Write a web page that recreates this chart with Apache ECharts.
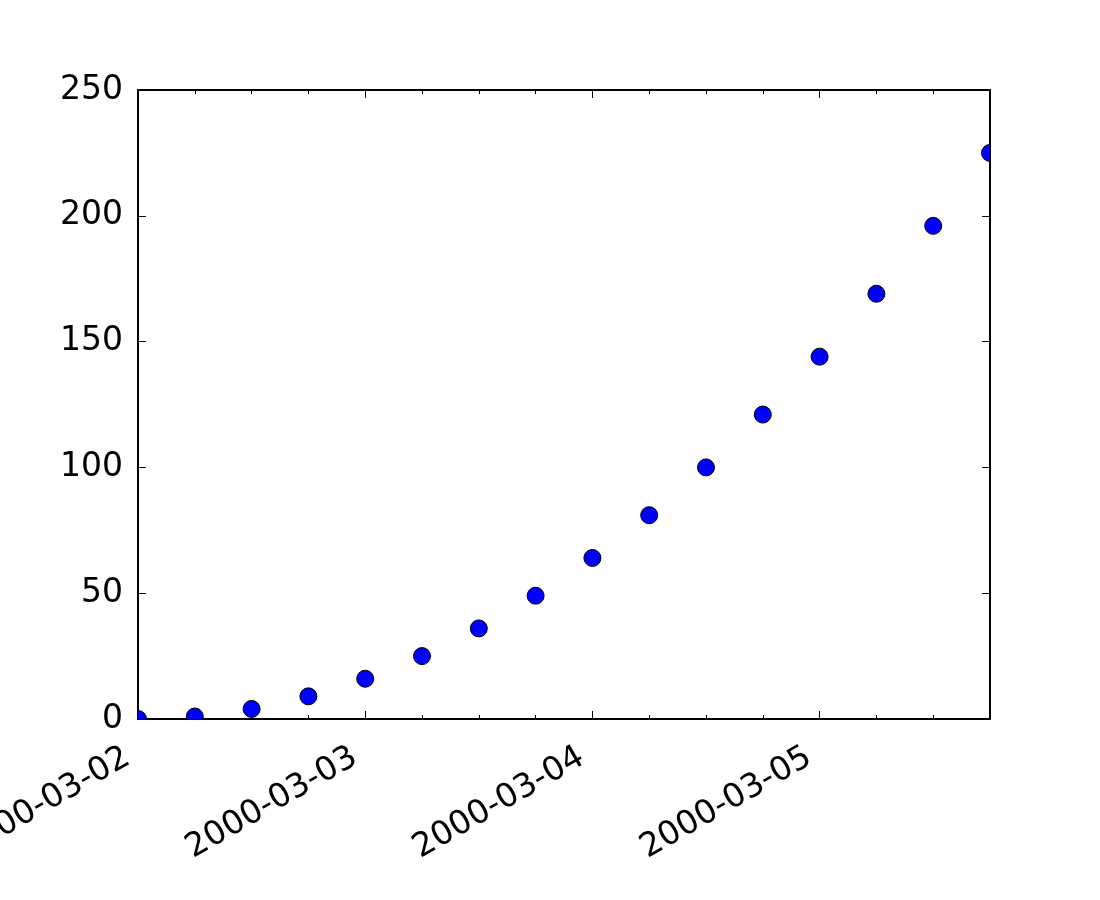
<!DOCTYPE html>
<html>
<head>
<meta charset="utf-8">
<script src="https://cdn.jsdelivr.net/npm/echarts@6/dist/echarts.min.js"></script>
<style>
html,body{margin:0;padding:0;background:#fff;}
#chart{width:1100px;height:900px;}
</style>
</head>
<body>
<div id="chart"></div>
<script>
// ---- data ----
const dates = [
  '2000-03-02T00:00', '2000-03-02T06:00', '2000-03-02T12:00', '2000-03-02T18:00',
  '2000-03-03T00:00', '2000-03-03T06:00', '2000-03-03T12:00', '2000-03-03T18:00',
  '2000-03-04T00:00', '2000-03-04T06:00', '2000-03-04T12:00', '2000-03-04T18:00',
  '2000-03-05T00:00', '2000-03-05T06:00', '2000-03-05T12:00', '2000-03-05T18:00'
];
const values = [0, 1, 4, 9, 16, 25, 36, 49, 64, 81, 100, 121, 144, 169, 196, 225];
const xStart = '2000-03-02T00:00';
const xEnd = '2000-03-05T18:00';
const yTicks = [0, 50, 100, 150, 200, 250];

// ---- helpers ----
function toMs(s) { return Date.parse(s + ':00Z'); }
const DAY = 86400000, SIX_H = 21600000;
function pad(n) { return (n < 10 ? '0' : '') + n; }
function fmtDay(v) {
  const d = new Date(v);
  if (d.getUTCHours() !== 0 || d.getUTCMinutes() !== 0) return '';
  return d.getUTCFullYear() + '-' + pad(d.getUTCMonth() + 1) + '-' + pad(d.getUTCDate());
}
const xMin = toMs(xStart), xMax = toMs(xEnd);
const font = 'DejaVu Sans';
const FS = 33;
const lineStyle = { color: '#000', width: 2 };

function xAx(pos, showLabel, tickLen, interval, showLine) {
  return {
    type: 'value', position: pos, min: xMin, max: xMax, interval: interval,
    axisLine: { show: showLine, onZero: false, lineStyle: lineStyle },
    axisTick: { show: true, inside: true, length: tickLen, lineStyle: { color: '#000', width: 1 } },
    axisLabel: showLabel ? {
      show: true, rotate: 30, margin: 30, padding: [0, 12, 0, 0],
      fontFamily: font, fontSize: FS, color: '#000',
      formatter: fmtDay, hideOverlap: false, showMaxLabel: false
    } : { show: false },
    splitLine: { show: false }
  };
}
function yAx(pos, showLabel) {
  return {
    type: 'value', position: pos, min: yTicks[0], max: yTicks[yTicks.length - 1],
    interval: yTicks[1] - yTicks[0],
    axisLine: { show: true, onZero: false, lineStyle: lineStyle },
    axisTick: { show: true, inside: true, length: 8, lineStyle: { color: '#000', width: 1 } },
    axisLabel: showLabel ? { show: true, margin: 15, fontFamily: font, fontSize: FS, color: '#000' } : { show: false },
    splitLine: { show: false }
  };
}

const chart = echarts.init(document.getElementById('chart'), null, { renderer: 'canvas' });
chart.setOption({
  animation: false,
  backgroundColor: '#fff',
  grid: { left: 138, right: 110, top: 90, bottom: 181, containLabel: false, outerBoundsMode: 'none' },
  xAxis: [
    xAx('bottom', true, 8, DAY, true),
    xAx('bottom', false, 4, SIX_H, false),
    xAx('top', false, 8, DAY, true),
    xAx('top', false, 4, SIX_H, false)
  ],
  yAxis: [yAx('left', true), yAx('right', false)],
  series: [{
    type: 'custom',
    xAxisIndex: 0, yAxisIndex: 0,
    clip: true,
    encode: { x: 0, y: 1 },
    renderItem: function (params, api) {
      const p = api.coord([api.value(0), api.value(1)]);
      return {
        type: 'circle',
        shape: { cx: p[0], cy: p[1], r: 8.5 },
        style: { fill: '#0000ff', stroke: '#000', lineWidth: 1 }
      };
    },
    data: dates.map((d, i) => [toMs(d), values[i]])
  }]
});
</script>
</body>
</html>
